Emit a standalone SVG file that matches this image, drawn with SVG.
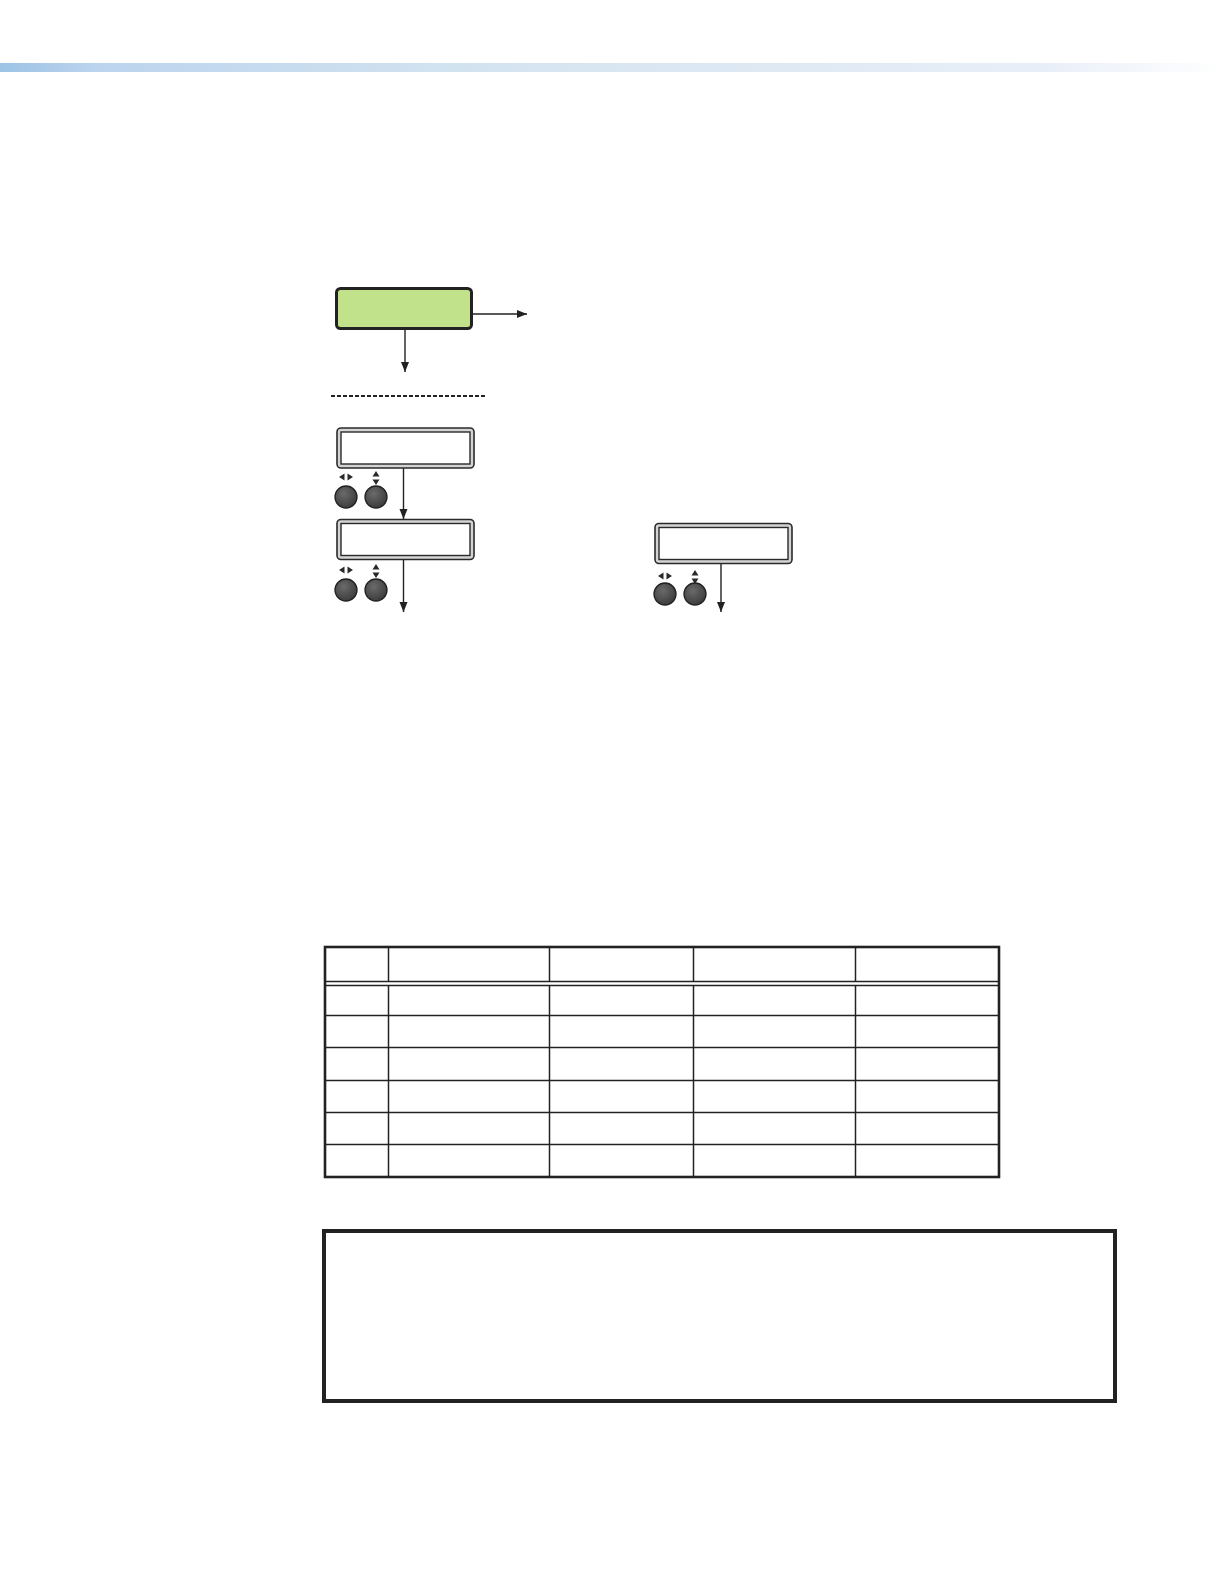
<svg xmlns="http://www.w3.org/2000/svg" width="1224" height="1584" viewBox="0 0 1224 1584">
<style>
.lcdo{fill:#d4d4d4;stroke:#2a2a2a;stroke-width:1.6}
.lcdi{fill:#ffffff;stroke:#2a2a2a;stroke-width:1.4}
.btn{fill:url(#btng);stroke:#222;stroke-width:1.3}
.ico{fill:#2a2a2a}
.conn{stroke:#222;stroke-width:1.4;fill:none}
.tline{stroke:#222;stroke-width:1.5}
</style>
<defs>
<linearGradient id="bar" x1="0" y1="0" x2="1" y2="0">
<stop offset="0" stop-color="#9cc3e6"/>
<stop offset="0.08" stop-color="#bcd4ee"/>
<stop offset="0.4" stop-color="#d4e4f0"/>
<stop offset="0.85" stop-color="#e8eef8"/>
<stop offset="1" stop-color="#ffffff"/>
</linearGradient>
<radialGradient id="btng" cx="0.4" cy="0.35" r="0.7">
<stop offset="0" stop-color="#6a6a6a"/>
<stop offset="1" stop-color="#3a3a3a"/>
</radialGradient>
<marker id="arr" viewBox="0 0 10 10" refX="10" refY="5" markerWidth="10" markerHeight="10" markerUnits="userSpaceOnUse" orient="auto">
<path d="M0,1 L10,5 L0,9 Z" fill="#222"/>
</marker>
<g id="lr">
<path class="ico" d="M-7,0 L-1.5,-3.5 L-1.5,3.5 Z M7,0 L1.5,-3.5 L1.5,3.5 Z"/>
</g>
<g id="ud">
<path class="ico" d="M0,-7 L-3.5,-1.5 L3.5,-1.5 Z M0,7 L-3.5,1.5 L3.5,1.5 Z"/>
</g>
</defs>
<rect width="1224" height="1584" fill="#ffffff"/>
<rect x="0" y="63" width="1224" height="9" fill="url(#bar)"/>

<g id="connectors">
<line class="conn" x1="473" y1="314" x2="527" y2="314" marker-end="url(#arr)"/>
<line class="conn" x1="405" y1="329" x2="405" y2="372" marker-end="url(#arr)"/>
<line class="conn" x1="403.5" y1="468" x2="403.5" y2="519" marker-end="url(#arr)"/>
<line class="conn" x1="403.5" y1="559" x2="403.5" y2="612" marker-end="url(#arr)"/>
<line class="conn" x1="721" y1="563" x2="721" y2="612" marker-end="url(#arr)"/>
</g>

<g id="node-green">
<rect x="336.5" y="288.5" width="135" height="40" rx="4" fill="#c1e28a" stroke="#222" stroke-width="3"/>
</g>

<line id="divider" x1="331" y1="396" x2="487" y2="396" stroke="#222" stroke-width="2" stroke-dasharray="4 2"/>

<g id="node-lcd1">
<rect class="lcdo" x="337" y="428" width="137" height="40" rx="4"/>
<rect class="lcdi" x="341" y="432" width="129" height="32"/>
<use href="#lr" x="346" y="477"/>
<use href="#ud" x="376" y="478"/>
<circle class="btn" cx="346" cy="497" r="11"/>
<circle class="btn" cx="376" cy="497" r="11"/>
</g>

<g id="node-lcd2">
<rect class="lcdo" x="337" y="519.5" width="137" height="40" rx="4"/>
<rect class="lcdi" x="341" y="523.5" width="129" height="32"/>
<use href="#lr" x="346" y="570"/>
<use href="#ud" x="376" y="571"/>
<circle class="btn" cx="346" cy="590" r="11"/>
<circle class="btn" cx="376" cy="590" r="11"/>
</g>

<g id="node-lcd3">
<rect class="lcdo" x="655" y="523.5" width="137" height="40" rx="4"/>
<rect class="lcdi" x="659" y="527.5" width="129" height="32"/>
<use href="#lr" x="665" y="576"/>
<use href="#ud" x="695" y="577"/>
<circle class="btn" cx="665" cy="594" r="11"/>
<circle class="btn" cx="695" cy="594" r="11"/>
</g>

<g id="table">
<line class="tline" x1="388.5" y1="947" x2="388.5" y2="981.5"/>
<line class="tline" x1="549.5" y1="947" x2="549.5" y2="981.5"/>
<line class="tline" x1="693.5" y1="947" x2="693.5" y2="981.5"/>
<line class="tline" x1="855.5" y1="947" x2="855.5" y2="981.5"/>
<line class="tline" x1="388.5" y1="985" x2="388.5" y2="1177"/>
<line class="tline" x1="549.5" y1="985" x2="549.5" y2="1177"/>
<line class="tline" x1="693.5" y1="985" x2="693.5" y2="1177"/>
<line class="tline" x1="855.5" y1="985" x2="855.5" y2="1177"/>
<line class="tline" x1="325" y1="981.5" x2="999" y2="981.5"/>
<line class="tline" x1="325" y1="985.5" x2="999" y2="985.5"/>
<line class="tline" x1="325" y1="1015.5" x2="999" y2="1015.5"/>
<line class="tline" x1="325" y1="1047.5" x2="999" y2="1047.5"/>
<line class="tline" x1="325" y1="1080.5" x2="999" y2="1080.5"/>
<line class="tline" x1="325" y1="1112.5" x2="999" y2="1112.5"/>
<line class="tline" x1="325" y1="1144.5" x2="999" y2="1144.5"/>
<rect x="325" y="947" width="674" height="230" fill="none" stroke="#222" stroke-width="2.6"/>
</g>

<g id="note">
<rect x="324" y="1231" width="791" height="170" fill="none" stroke="#222" stroke-width="4"/>
</g>
</svg>
